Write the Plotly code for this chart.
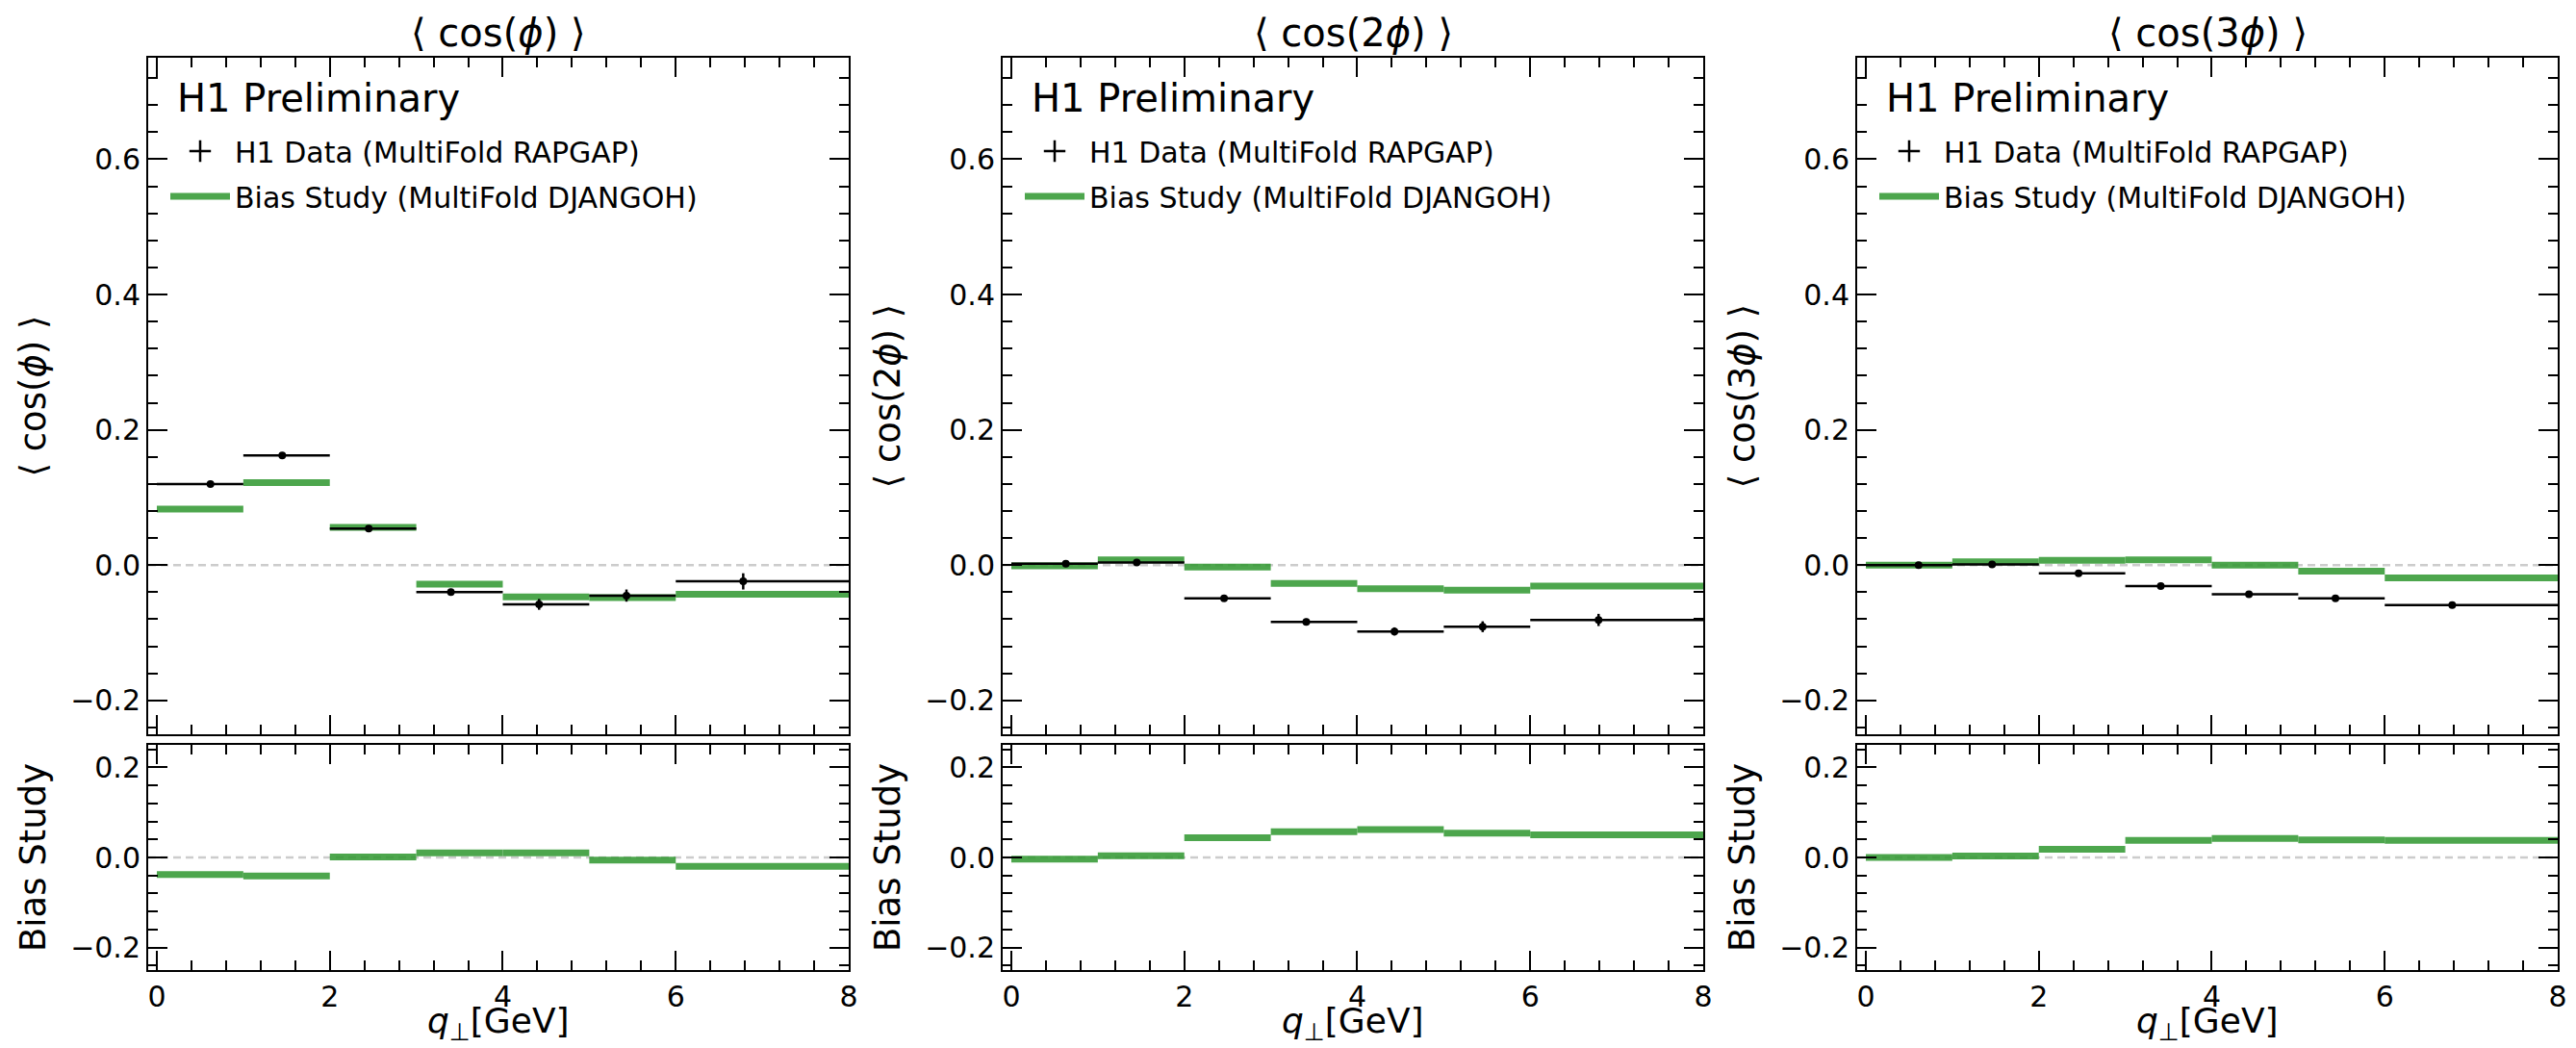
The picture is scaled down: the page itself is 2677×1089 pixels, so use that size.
import plotly.graph_objects as go

# ---------------- data ----------------
bin_edges = [0, 1, 2, 3, 4, 5, 6, 8]
panel_titles = ["⟨ cos(<i>ϕ</i>) ⟩", "⟨ cos(2<i>ϕ</i>) ⟩", "⟨ cos(3<i>ϕ</i>) ⟩"]
ratio_label = "Bias Study"
x_label = "<i>q</i><sub>⊥</sub>[GeV]"
data_name = "H1 Data (MultiFold RAPGAP)"
bias_name = "Bias Study (MultiFold DJANGOH)"
legend_title = "H1 Preliminary"

# cos(phi)
x_cos1 = [0.62, 1.45, 2.45, 3.40, 4.42, 5.43, 6.78]
data_cos1 = [0.120, 0.162, 0.054, -0.040, -0.058, -0.045, -0.024]
err_cos1 = [0.003, 0.003, 0.003, 0.005, 0.008, 0.009, 0.012]
bias_cos1 = [0.083, 0.122, 0.056, -0.028, -0.047, -0.048, -0.043]
ratio_cos1 = [-0.038, -0.041, 0.001, 0.010, 0.010, -0.006, -0.020]

# cos(2phi)
x_cos2 = [0.63, 1.45, 2.46, 3.41, 4.43, 5.45, 6.79]
data_cos2 = [0.002, 0.004, -0.049, -0.084, -0.098, -0.091, -0.081]
err_cos2 = [0.003, 0.003, 0.003, 0.005, 0.006, 0.008, 0.009]
bias_cos2 = [-0.001, 0.008, -0.003, -0.027, -0.035, -0.037, -0.031]
ratio_cos2 = [-0.004, 0.004, 0.044, 0.057, 0.062, 0.054, 0.050]

# cos(3phi)
x_cos3 = [0.61, 1.46, 2.46, 3.41, 4.43, 5.43, 6.78]
data_cos3 = [0.000, 0.001, -0.012, -0.031, -0.043, -0.049, -0.059]
err_cos3 = [0.003, 0.003, 0.003, 0.003, 0.003, 0.004, 0.004]
bias_cos3 = [0.000, 0.005, 0.007, 0.008, 0.000, -0.009, -0.019]
ratio_cos3 = [0.000, 0.003, 0.018, 0.038, 0.042, 0.039, 0.038]

panels = [
    (x_cos1, data_cos1, err_cos1, bias_cos1, ratio_cos1),
    (x_cos2, data_cos2, err_cos2, bias_cos2, ratio_cos2),
    (x_cos3, data_cos3, err_cos3, bias_cos3, ratio_cos3),
]

# ---------------- style ----------------
W, H = 2677, 1089
FONT = "DejaVu Sans"
GREEN = "rgba(46,150,46,0.85)"
x_px = [(154, 882), (1042, 1770), (1930, 2658)]
main_px = (60, 763)
ratio_px = (774, 1008)


def seg(values):
    xs, ys = [], []
    for i, v in enumerate(values):
        xs += [bin_edges[i], bin_edges[i + 1], None]
        ys += [v, v, None]
    return xs, ys


fig = go.Figure()
layout = dict(
    width=W, height=H,
    margin=dict(l=0, r=0, t=0, b=0, autoexpand=False),
    paper_bgcolor="white", plot_bgcolor="white",
    font=dict(family=FONT, color="black"),
    showlegend=True,
    annotations=[], shapes=[],
)

axis_common = dict(
    showline=True, linecolor="black", linewidth=2, mirror="allticks",
    ticks="inside", ticklen=20, tickwidth=2, tickcolor="black",
    showgrid=False, zeroline=False, automargin=False,
    tickfont=dict(family=FONT, size=30, color="black"),
)

for c, (xc, dv, ev, bv, rv) in enumerate(panels):
    im = c + 1          # main axis index
    ir = c + 4          # ratio axis index
    xm = "x" if im == 1 else f"x{im}"
    ym = "y" if im == 1 else f"y{im}"
    xr, yr = f"x{ir}", f"y{ir}"
    leg = "legend" if c == 0 else f"legend{c + 1}"
    x0, x1 = x_px[c]
    xdom = [x0 / W, x1 / W]

    # x axes
    layout["xaxis" if im == 1 else f"xaxis{im}"] = dict(
        axis_common, domain=xdom, anchor=ym, range=[-0.1, 8], dtick=2, tick0=0,
        showticklabels=False, matches=xr,
        minor=dict(ticks="inside", ticklen=10, tickwidth=2, tickcolor="black", dtick=0.4, tick0=0),
    )
    layout[f"xaxis{ir}"] = dict(
        axis_common, domain=xdom, anchor=yr, range=[-0.1, 8], dtick=2, tick0=0,
        minor=dict(ticks="inside", ticklen=10, tickwidth=2, tickcolor="black", dtick=0.4, tick0=0),
    )
    # y axes
    layout["yaxis" if im == 1 else f"yaxis{im}"] = dict(
        axis_common, domain=[1 - main_px[1] / H, 1 - main_px[0] / H], anchor=xm,
        range=[-0.25, 0.75], dtick=0.2, tick0=0, tickformat=".1f",
        minor=dict(ticks="inside", ticklen=10, tickwidth=2, tickcolor="black", dtick=0.04, tick0=0),
        title=dict(text=panel_titles[c], font=dict(family=FONT, size=37), standoff=14),
    )
    layout[f"yaxis{ir}"] = dict(
        axis_common, domain=[1 - ratio_px[1] / H, 1 - ratio_px[0] / H], anchor=xr,
        range=[-0.25, 0.25], dtick=0.2, tick0=0, tickformat=".1f",
        minor=dict(ticks="inside", ticklen=10, tickwidth=2, tickcolor="black", dtick=0.04, tick0=0),
        title=dict(text=ratio_label, font=dict(family=FONT, size=37), standoff=14),
    )

    # x-axis title as annotation (placed at the bottom of the figure)
    layout["annotations"].append(dict(
        text=x_label, x=(x0 + x1) / 2 / W, y=0,
        xref="paper", yref="paper", xanchor="center", yanchor="bottom",
        showarrow=False, font=dict(family=FONT, size=36, color="black"),
    ))

    # legend per panel
    layout[leg] = dict(
        x=(x0 + 18) / W, y=1 - 131 / H, xanchor="left", yanchor="top",
        bgcolor="rgba(0,0,0,0)", borderwidth=0,
        font=dict(family=FONT, size=30, color="black"),
        itemwidth=62, tracegroupgap=5,
    )
    # "H1 Preliminary" label
    layout["annotations"].append(dict(
        text=legend_title, x=(x0 + 28) / W, y=1 - 102 / H,
        xref="paper", yref="paper", xanchor="left", yanchor="middle",
        showarrow=False, font=dict(family=FONT, size=40, color="black"),
    ))

    # column title
    layout["annotations"].append(dict(
        text=panel_titles[c], x=(x0 + x1) / 2 / W, y=1 - 34 / H,
        xref="paper", yref="paper", xanchor="center", yanchor="middle",
        showarrow=False, font=dict(family=FONT, size=40, color="black"),
    ))

    # dashed zero lines
    for xa, ya in ((xm, ym), (xr, yr)):
        layout["shapes"].append(dict(
            type="line", xref=f"{xa} domain", yref=ya, x0=0, x1=1, y0=0, y1=0,
            line=dict(color="#cccccc", width=2.5, dash="8px,5px"), layer="below",
        ))

    # bias study (main)
    bx, by = seg(bv)
    fig.add_trace(go.Scatter(
        x=bx, y=by, mode="lines", line=dict(color=GREEN, width=7),
        xaxis=xm, yaxis=ym, name=bias_name, legend=leg, legendgroup=f"b{c}",
        legendrank=2, showlegend=True, hoverinfo="skip",
    ))
    # data points (main)
    fig.add_trace(go.Scatter(
        x=xc, y=dv, mode="markers",
        marker=dict(symbol="circle", size=8, color="black"),
        error_x=dict(type="data", symmetric=False,
                     array=[bin_edges[i + 1] - xc[i] for i in range(len(xc))],
                     arrayminus=[xc[i] - bin_edges[i] for i in range(len(xc))],
                     width=0, thickness=2.5, color="black"),
        error_y=dict(type="data", array=ev, width=0, thickness=2.5, color="black"),
        xaxis=xm, yaxis=ym, name=data_name, showlegend=False,
    ))
    # legend proxy for data
    fig.add_trace(go.Scatter(
        x=[None], y=[None], mode="markers",
        marker=dict(symbol="cross-thin", size=16, line=dict(width=2.5, color="black")),
        xaxis=xm, yaxis=ym, name=data_name, legend=leg, legendgroup=f"d{c}",
        legendrank=1, showlegend=True,
    ))
    # bias study (ratio)
    rx, ry = seg(rv)
    fig.add_trace(go.Scatter(
        x=rx, y=ry, mode="lines", line=dict(color=GREEN, width=7),
        xaxis=xr, yaxis=yr, name=bias_name, showlegend=False, hoverinfo="skip",
    ))

fig.update_layout(**layout)
fig.write_html("out.html")
